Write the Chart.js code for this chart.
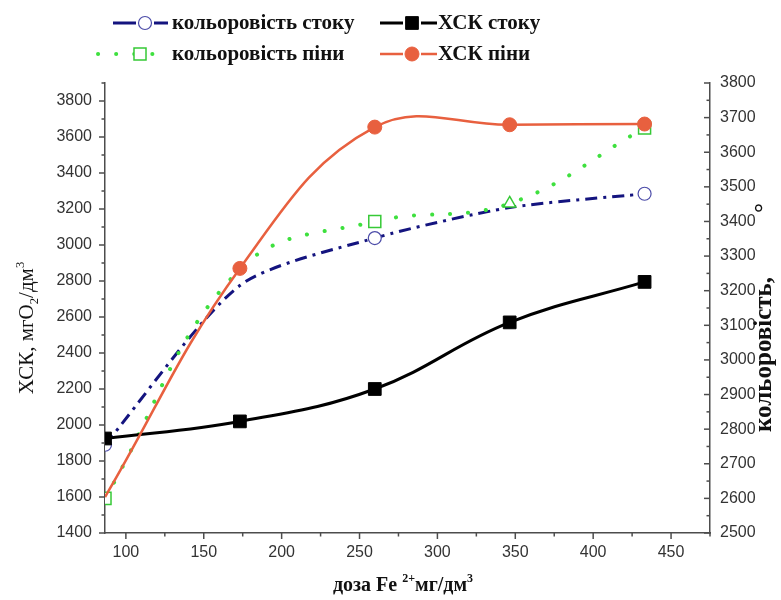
<!DOCTYPE html>
<html lang="uk">
<head>
<meta charset="utf-8">
<title>ХСК і кольоровість</title>
<script src="https://cdn.jsdelivr.net/npm/chart.js@4.4.1/dist/chart.umd.min.js"></script>
<style>
  html, body { margin: 0; padding: 0; background: #fff; }
  #wrap { width: 781px; height: 600px; }
</style>
</head>
<body>
<div id="wrap"><canvas id="chart" width="781" height="600"></canvas></div>
<script>
// доза Fe2+, мг/дм3
const doses = [86.6, 173.2, 259.8, 346.4, 433];

// ліва вісь: ХСК, мгО2/дм3
const codEffluent = [1925, 2020, 2200, 2570, 2795];
const codFoam = [1600, 2870, 3655, 3668, 3672];

// права вісь: кольоровість, град.
const colourEffluent = [2755, 3215, 3352, 3440, 3480];
const colourFoam = [2600, 3262, 3400, 3452, 3670];

const xTicks = [100, 150, 200, 250, 300, 350, 400, 450];
const codTicks = [1400, 1600, 1800, 2000, 2200, 2400, 2600, 2800, 3000, 3200, 3400, 3600, 3800];
const colourTicks = [2500, 2600, 2700, 2800, 2900, 3000, 3100, 3200, 3300, 3400, 3500, 3600, 3700, 3800];

const AXIS = '#4d4d4d';
const SERIF = '"Liberation Serif", "Times New Roman", serif';

const toPoints = ys => ys.map((y, i) => ({ x: doses[i], y }));
const fixTicks = list => scale => { scale.ticks = list.map(v => ({ value: v })); };
const plain = v => String(v);

// major ticks from the lists, minor ticks halfway between
const tickMarks = {
  id: 'tickMarks',
  afterDraw(chart) {
    const { ctx, scales } = chart;
    const area = chart.chartArea;
    ctx.save();
    ctx.strokeStyle = AXIS;
    ctx.lineWidth = 1.5;
    const seg = (x0, y0, x1, y1) => { ctx.beginPath(); ctx.moveTo(x0, y0); ctx.lineTo(x1, y1); ctx.stroke(); };
    const each = (scale, list, fn) => {
      const half = (list[1] - list[0]) / 2;
      list.forEach(v => {
        fn(scale.getPixelForValue(v), 6);
        const m = v + half;
        if (m <= scale.max + 0.01) fn(scale.getPixelForValue(m), 3.5);
      });
    };
    each(scales.x, xTicks, (px, len) => seg(px, area.bottom, px, area.bottom + len));
    each(scales.y, codTicks, (py, len) => seg(area.left - len, py, area.left, py));
    each(scales.y1, colourTicks, (py, len) => seg(area.right - len, py, area.right, py));
    ctx.restore();
  }
};

// text made of runs: [text, shift] where shift 1 = superscript, -1 = subscript
function drawRuns(ctx, runs, x, y, size, weight, align) {
  const font = s => `${weight} ${s}px ${SERIF}`;
  const widths = runs.map(([t, shift]) => {
    ctx.font = font(shift ? size * 0.6 : size);
    return ctx.measureText(t).width;
  });
  const total = widths.reduce((a, b) => a + b, 0);
  let cx = align === 'center' ? x - total / 2 : x;
  runs.forEach(([t, shift], i) => {
    ctx.font = font(shift ? size * 0.6 : size);
    const dy = shift > 0 ? -size * 0.45 : shift < 0 ? size * 0.22 : 0;
    ctx.fillText(t, cx, y + dy);
    cx += widths[i];
  });
}

const axisTitles = {
  id: 'axisTitles',
  afterDraw(chart) {
    const ctx = chart.ctx;
    ctx.save();
    ctx.fillStyle = '#111';
    ctx.textBaseline = 'alphabetic';
    ctx.textAlign = 'left';

    drawRuns(ctx, [['доза Fe ', 0], ['2+', 1], ['мг/дм', 0], ['3', 1]], 403, 591, 20, 'bold', 'center');

    ctx.save();
    ctx.translate(33, 328);
    ctx.rotate(-Math.PI / 2);
    drawRuns(ctx, [['ХСК, мгО', 0], ['2', -1], ['/дм', 0], ['3', 1]], 0, 0, 21, 'normal', 'center');
    ctx.restore();

    ctx.save();
    ctx.translate(771, 432);
    ctx.rotate(-Math.PI / 2);
    ctx.font = `bold 25px ${SERIF}`;
    ctx.fillText('кольоровість,', 0, 0);
    ctx.fillText('°', 219, 0);
    ctx.restore();

    ctx.restore();
  }
};

// two-column legend above the plot
const legendSpots = [
  { label: 'кольоровість стоку', x0: 113, x1: 168, mx: 145, tx: 172, y: 23 },
  { label: 'ХСК стоку', x0: 380, x1: 437, mx: 412, tx: 438, y: 23 },
  { label: 'кольоровість піни', x0: 98, x1: 158, mx: 140, tx: 172, y: 54 },
  { label: 'ХСК піни', x0: 380, x1: 437, mx: 412, tx: 438, y: 54 }
];

const topLegend = {
  id: 'topLegend',
  afterDraw(chart) {
    const ctx = chart.ctx;
    ctx.save();
    legendSpots.forEach(spot => {
      const ds = chart.data.datasets.find(d => d.label === spot.label);
      ctx.strokeStyle = ds.borderColor;
      ctx.lineWidth = ds.borderWidth;
      ctx.lineCap = ds.borderCapStyle || 'butt';
      if (ds.legendDots) {
        ctx.setLineDash(ds.borderDash);
        ctx.beginPath(); ctx.moveTo(spot.x0, spot.y); ctx.lineTo(spot.x1, spot.y); ctx.stroke();
        ctx.setLineDash([]);
      } else {
        ctx.beginPath();
        ctx.moveTo(spot.x0, spot.y); ctx.lineTo(spot.mx - 9, spot.y);
        ctx.moveTo(spot.mx + 9, spot.y); ctx.lineTo(spot.x1, spot.y);
        ctx.stroke();
      }
      ctx.fillStyle = ds.pointBackgroundColor || ds.backgroundColor;
      ctx.strokeStyle = ds.pointBorderColor || ds.borderColor;
      ctx.lineWidth = ds.pointBorderWidth || 1;
      Chart.helpers.drawPoint(ctx, { pointStyle: ds.legendStyle, radius: ds.legendRadius, borderWidth: ds.pointBorderWidth || 1, rotation: 0 }, spot.mx, spot.y);

      ctx.fillStyle = '#111';
      ctx.font = `bold 21px ${SERIF}`;
      ctx.textBaseline = 'middle';
      ctx.fillText(spot.label, spot.tx, spot.y + 1);
    });
    ctx.restore();
  }
};

const tickFont = { family: '"Liberation Sans", Arial, sans-serif', size: 16 };

new Chart(document.getElementById('chart'), {
  type: 'line',
  data: {
    datasets: [
      {
        label: 'ХСК піни',
        data: toPoints(codFoam),
        yAxisID: 'y',
        borderColor: '#e8603f',
        backgroundColor: '#e8603f',
        borderWidth: 2.5,
        pointStyle: 'circle',
        pointRadius: [0, 7, 7, 7, 7],
        pointBorderWidth: 1,
        legendStyle: 'circle',
        legendRadius: 7,
        tension: 0.4
      },
      {
        label: 'ХСК стоку',
        data: toPoints(codEffluent),
        yAxisID: 'y',
        borderColor: '#000',
        backgroundColor: '#000',
        borderWidth: 3,
        pointStyle: 'rect',
        pointRadius: 9,
        pointBorderWidth: 1,
        legendStyle: 'rect',
        legendRadius: 9,
        tension: 0.4
      },
      {
        label: 'кольоровість піни',
        data: toPoints(colourFoam),
        yAxisID: 'y1',
        borderColor: '#3ee03e',
        borderDash: [0.1, 18],
        borderCapStyle: 'round',
        borderWidth: 4,
        legendDots: true,
        pointStyle: ['rect', 'rect', 'rect', 'triangle', 'rect'],
        pointRadius: [8.5, 0, 8.5, 7, 8.5],
        pointBackgroundColor: '#fff',
        pointBorderColor: '#36c936',
        pointBorderWidth: 1.5,
        legendStyle: 'rect',
        legendRadius: 8.5,
        tension: 0.4
      },
      {
        label: 'кольоровість стоку',
        data: toPoints(colourEffluent),
        yAxisID: 'y1',
        borderColor: '#14147f',
        borderDash: [12, 6, 3, 6],
        borderWidth: 3,
        pointStyle: 'circle',
        pointRadius: [6.5, 0, 6.5, 0, 6.5],
        pointBackgroundColor: '#fff',
        pointBorderColor: '#4b4ba8',
        pointBorderWidth: 1.2,
        legendStyle: 'circle',
        legendRadius: 6.5,
        tension: 0.25
      }
    ]
  },
  options: {
    responsive: false,
    animation: false,
    events: [],
    layout: { padding: { top: 83, left: 0, right: 0, bottom: 0 } },
    plugins: { legend: { display: false }, tooltip: { enabled: false } },
    scales: {
      x: {
        type: 'linear',
        min: 86.6,
        max: 475,
        afterBuildTicks: fixTicks(xTicks),
        afterFit: s => { s.height = 67; },
        grid: { display: false, drawTicks: false },
        border: { display: true, color: AXIS, width: 1.5 },
        ticks: { font: tickFont, color: '#333', padding: 10, maxRotation: 0, autoSkip: false, callback: plain }
      },
      y: {
        position: 'left',
        min: 1400,
        max: 3900,
        afterBuildTicks: fixTicks(codTicks),
        afterFit: s => { s.width = 105; },
        grid: { display: false, drawTicks: false },
        border: { display: true, color: AXIS, width: 1.5 },
        ticks: { font: tickFont, color: '#333', padding: 13, callback: plain }
      },
      y1: {
        position: 'right',
        min: 2500,
        max: 3800,
        afterBuildTicks: fixTicks(colourTicks),
        afterFit: s => { s.width = 71; },
        grid: { display: false, drawTicks: false },
        border: { display: true, color: AXIS, width: 1.5 },
        ticks: { font: tickFont, color: '#333', padding: 10, callback: plain }
      }
    }
  },
  plugins: [tickMarks, axisTitles, topLegend]
});
</script>
</body>
</html>
